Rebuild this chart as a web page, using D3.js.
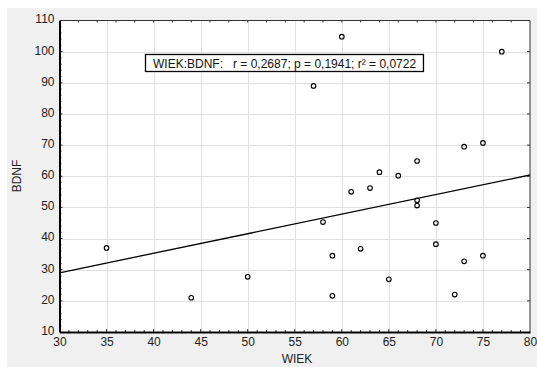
<!DOCTYPE html>
<html>
<head>
<meta charset="utf-8">
<script src="https://cdn.jsdelivr.net/npm/d3@7"></script>
<style>
  body { margin: 0; background: #fff; }
  svg { display: block; font-family: "Liberation Sans", Arial, sans-serif; }
  .grid line { stroke: #e1e1e1; stroke-width: 1; }
  .tick text { font-size: 12px; fill: #222; }
</style>
</head>
<body>
<svg id="chart" width="537" height="367"></svg>
<script>
// WIEK vs BDNF scatter with linear fit

var wiek = [35, 44, 50, 57, 58, 59, 59, 60, 61, 62, 63, 64, 65, 66,
            68, 68, 68, 70, 70, 72, 73, 73, 75, 75, 77];
var bdnf = [37.0, 21.0, 27.7, 89.0, 45.3, 34.5, 21.6, 104.8, 55.0, 36.7, 56.2, 61.3, 26.9, 60.2,
            64.9, 52.3, 50.6, 45.0, 38.2, 22.0, 69.5, 32.7, 70.7, 34.5, 100.0];

var fitIntercept = 10.16;
var fitSlope = 0.628;

var xTicks = [30, 35, 40, 45, 50, 55, 60, 65, 70, 75, 80];
var yTicks = [10, 20, 30, 40, 50, 60, 70, 80, 90, 100, 110];
var label = "WIEK:BDNF:   r = 0,2687; p = 0,1941; r² = 0,0722";

var svg = d3.select("#chart");
var margin = { left: 59.5, top: 20.5, right: 530, bottom: 332 };

svg.append("rect")
  .attr("x", 7).attr("y", 8)
  .attr("width", 530).attr("height", 359)
  .attr("fill", "#f0f0f0");

var x = d3.scaleLinear().domain([30, 80]).range([margin.left, margin.right]);
var y = d3.scaleLinear().domain([10, 110]).range([margin.bottom, margin.top]);

svg.append("rect")
  .attr("x", margin.left).attr("y", margin.top)
  .attr("width", margin.right - margin.left)
  .attr("height", margin.bottom - margin.top)
  .attr("fill", "#fff");

// grid
var grid = svg.append("g").attr("class", "grid");
grid.selectAll("line.v")
  .data(xTicks.slice(1, -1))
  .enter().append("line")
  .attr("x1", function (d) { return Math.round(x(d)) + 0.5; })
  .attr("x2", function (d) { return Math.round(x(d)) + 0.5; })
  .attr("y1", margin.top).attr("y2", margin.bottom);
grid.selectAll("line.h")
  .data(yTicks.slice(1, -1))
  .enter().append("line")
  .attr("y1", function (d) { return Math.round(y(d)) + 0.5; })
  .attr("y2", function (d) { return Math.round(y(d)) + 0.5; })
  .attr("x1", margin.left).attr("x2", margin.right);

// minor ticks (inside)
var minorX = d3.range(31, 80, 1);
var minorY = d3.range(12, 110, 2);
var frame = svg.append("g").attr("stroke", "#333").attr("stroke-width", 1);
frame.selectAll("line.mb").data(minorX).enter().append("line")
  .attr("x1", function (d) { return x(d); }).attr("x2", function (d) { return x(d); })
  .attr("y1", margin.bottom).attr("y2", function (d) { return margin.bottom - (d % 5 ? 2 : 3); });
frame.selectAll("line.mt").data(minorX.filter(function (d) { return d % 2 === 0; })).enter().append("line")
  .attr("x1", function (d) { return x(d); }).attr("x2", function (d) { return x(d); })
  .attr("y1", margin.top).attr("y2", margin.top + 2);
frame.selectAll("line.ml").data(minorY).enter().append("line")
  .attr("y1", function (d) { return y(d); }).attr("y2", function (d) { return y(d); })
  .attr("x1", margin.left).attr("x2", function (d) { return margin.left + (d % 10 ? 2 : 3); });
frame.selectAll("line.mr").data(yTicks.slice(1, -1)).enter().append("line")
  .attr("y1", function (d) { return y(d); }).attr("y2", function (d) { return y(d); })
  .attr("x1", margin.right).attr("x2", margin.right - 3);

// fit line
svg.append("line")
  .attr("x1", x(30)).attr("y1", y(fitIntercept + fitSlope * 30))
  .attr("x2", x(80)).attr("y2", y(fitIntercept + fitSlope * 80))
  .attr("stroke", "#000").attr("stroke-width", 1.3);

// points
svg.append("g").selectAll("circle")
  .data(wiek.map(function (d, i) { return [d, bdnf[i]]; }))
  .enter().append("circle")
  .attr("cx", function (d) { return x(d[0]); })
  .attr("cy", function (d) { return y(d[1]); })
  .attr("r", 2.3)
  .attr("fill", "none")
  .attr("stroke", "#000")
  .attr("stroke-width", 1.1);

// frame: thin top/right, thick left/bottom
svg.append("line").attr("x1", margin.left).attr("x2", margin.right)
  .attr("y1", margin.top).attr("y2", margin.top).attr("stroke", "#333");
svg.append("line").attr("x1", margin.right).attr("x2", margin.right)
  .attr("y1", margin.top).attr("y2", margin.bottom).attr("stroke", "#333");

var xAxis = svg.append("g")
  .attr("transform", "translate(0," + margin.bottom + ")")
  .call(d3.axisBottom(x).tickValues(xTicks).tickSize(0).tickPadding(5));
xAxis.select(".domain").attr("stroke", "#000").attr("stroke-width", 2);

var yAxis = svg.append("g")
  .attr("transform", "translate(" + margin.left + ",0)")
  .call(d3.axisLeft(y).tickValues(yTicks).tickSize(0).tickPadding(5));
yAxis.select(".domain").attr("stroke", "#000").attr("stroke-width", 2);
yAxis.selectAll(".tick text").attr("dy", "0.2em");

svg.append("text")
  .attr("x", 297).attr("y", 363)
  .attr("text-anchor", "middle")
  .style("font-size", "12px").attr("fill", "#222")
  .text("WIEK");

svg.append("text")
  .attr("transform", "translate(21,176) rotate(-90)")
  .attr("text-anchor", "middle")
  .style("font-size", "12px").attr("fill", "#222")
  .text("BDNF");

// stats box
var box = svg.append("g");
var boxText = box.append("text")
  .attr("x", 153).attr("y", 67.5)
  .style("font-size", "12px").attr("fill", "#111")
  .attr("xml:space", "preserve")
  .text(label);
var bb = boxText.node().getBBox();
box.insert("rect", "text")
  .attr("x", 145.5).attr("y", 54.5)
  .attr("width", bb.x + bb.width + 7 - 145.5).attr("height", 17)
  .attr("fill", "#fff").attr("stroke", "#000").attr("stroke-width", 1.3);
</script>
</body>
</html>
